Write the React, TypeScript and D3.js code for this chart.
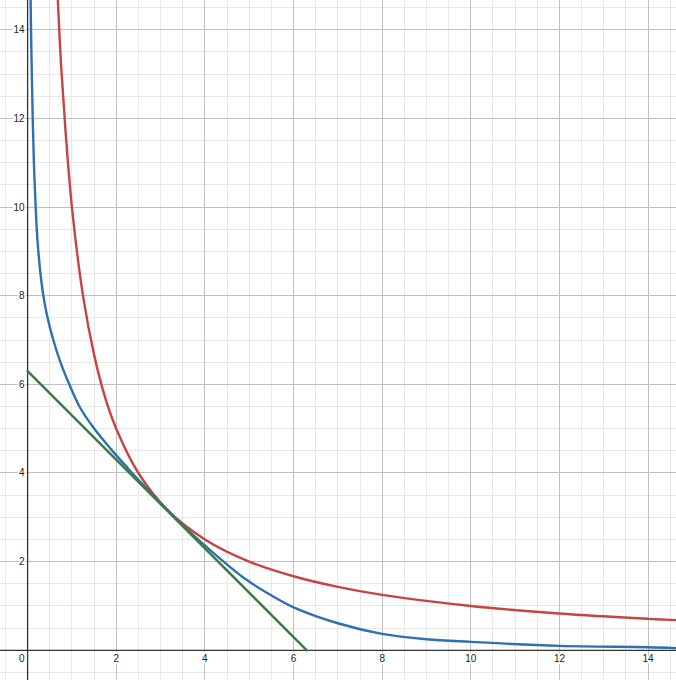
import * as d3 from "d3";

const W = 676;
const H = 680;

// visible window
const X_DOMAIN: [number, number] = [-0.623, 14.63];
const Y_DOMAIN: [number, number] = [-0.67, 14.67];

const MAJOR = [0, 2, 4, 6, 8, 10, 12, 14];
const TICK_LABELS = ["2", "4", "6", "8", "10", "12", "14"];

// red curve (x, y)
const redX = [0.68, 0.75, 0.85, 1, 1.25, 1.5, 1.75, 2, 2.5, 3.16, 4, 5, 6, 7, 8, 10, 12, 14, 14.63];
const redY = [14.7, 13.3, 11.8, 10, 8, 6.67, 5.7, 5, 4, 3.16, 2.5, 2, 1.67, 1.43, 1.25, 1, 0.83, 0.71, 0.68];

// blue curve
const blueX = [0.068, 0.077, 0.095, 0.115, 0.142, 0.182, 0.206, 0.242, 0.29, 0.355, 0.45, 0.58, 0.74, 0.94, 1.17, 1.48, 1.87, 2.25, 2.5, 3.16, 3.6, 4, 4.94, 5.69, 6, 7, 8, 9, 10, 12, 14, 14.63];
const blueY = [14.7, 14, 13, 12, 11, 10, 9.5, 9, 8.5, 8, 7.5, 7, 6.5, 6, 5.5, 5.03, 4.55, 4.12, 3.846, 3.16, 2.732, 2.365, 1.59, 1.13, 0.97, 0.61, 0.37, 0.25, 0.19, 0.1, 0.07, 0.05];

// green tangent line
const greenX = [0, 6.3];
const greenY = [6.3, 0];

const RED = "#c74440";
const BLUE = "#2d70b3";
const GREEN = "#3a7a44";

export default function App() {
  const x = d3.scaleLinear().domain(X_DOMAIN).range([0, W]);
  const y = d3.scaleLinear().domain(Y_DOMAIN).range([H, 0]);

  const minorX = d3.range(Math.ceil(X_DOMAIN[0] * 2) / 2, X_DOMAIN[1], 0.5);
  const minorY = d3.range(Math.ceil(Y_DOMAIN[0] * 2) / 2, Y_DOMAIN[1], 0.5);

  const line = d3
    .line<[number, number]>()
    .x((d) => x(d[0]))
    .y((d) => y(d[1]))
    .curve(d3.curveCatmullRom.alpha(0.5));

  const zip = (xs: number[], ys: number[]) =>
    xs.map((v, i) => [v, ys[i]] as [number, number]);

  const x0 = x(0);
  const y0 = y(0);
  const labelStyle = {
    fontFamily: "'Liberation Sans', Arial, sans-serif",
    fontSize: 10,
    fill: "#222",
    stroke: "#fff",
    strokeWidth: 3,
    paintOrder: "stroke",
  } as const;

  return (
    <svg
      width={W}
      height={H}
      style={{ position: "absolute", left: 0, top: 0, background: "#fff" }}
    >
      <defs>
        <clipPath id="plot">
          <rect x={0} y={0} width={W} height={H} />
        </clipPath>
      </defs>

      {/* minor grid */}
      <g stroke="#e8e8e8" strokeWidth={1} shapeRendering="crispEdges">
        {minorX.map((v) => (
          <line key={`mx${v}`} x1={x(v)} x2={x(v)} y1={0} y2={H} />
        ))}
        {minorY.map((v) => (
          <line key={`my${v}`} x1={0} x2={W} y1={y(v)} y2={y(v)} />
        ))}
      </g>

      {/* major grid */}
      <g stroke="#c0c0c0" strokeWidth={1} shapeRendering="crispEdges">
        {MAJOR.filter((v) => v !== 0).map((v) => (
          <line key={`Mx${v}`} x1={x(v)} x2={x(v)} y1={0} y2={H} />
        ))}
        {MAJOR.filter((v) => v !== 0).map((v) => (
          <line key={`My${v}`} x1={0} x2={W} y1={y(v)} y2={y(v)} />
        ))}
      </g>

      {/* axes */}
      <g stroke="#333" strokeWidth={1.3}>
        <line x1={x0} x2={x0} y1={0} y2={H} />
        <line x1={0} x2={W} y1={y0} y2={y0} />
      </g>

      {/* tick labels */}
      <g>
        {TICK_LABELS.map((t) => (
          <text
            key={`xl${t}`}
            x={x(+t)}
            y={y0 + 11.5}
            textAnchor="middle"
            style={labelStyle}
          >
            {t}
          </text>
        ))}
        {TICK_LABELS.map((t) => (
          <text
            key={`yl${t}`}
            x={x0 - 3}
            y={y(+t) + 3.5}
            textAnchor="end"
            style={labelStyle}
          >
            {t}
          </text>
        ))}
        <text x={x0 - 3} y={y0 + 11.5} textAnchor="end" style={labelStyle}>
          0
        </text>
      </g>

      {/* curves */}
      <g clipPath="url(#plot)" fill="none" strokeWidth={2.4} strokeLinecap="round">
        <path d={line(zip(redX, redY)) ?? ""} stroke={RED} />
        <path d={line(zip(blueX, blueY)) ?? ""} stroke={BLUE} />
        <path d={line(zip(greenX, greenY)) ?? ""} stroke={GREEN} />
      </g>
    </svg>
  );
}
